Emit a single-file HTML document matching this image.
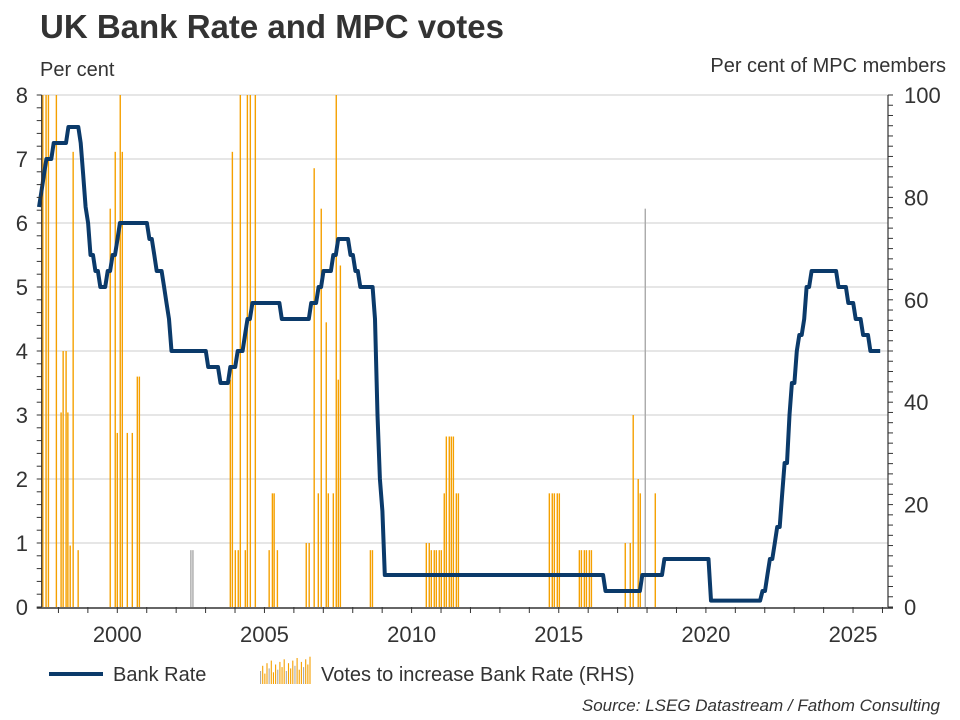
<!DOCTYPE html>
<html><head><meta charset="utf-8"><style>
html,body{margin:0;padding:0;background:#fff;}
svg{display:block;font-family:"Liberation Sans",Arial,sans-serif;}
</style></head><body>
<svg id="chart" width="960" height="720" viewBox="0 0 960 720">
<text x="40" y="38" font-size="33" font-weight="bold" fill="#333">UK Bank Rate and MPC votes</text>
<text x="40" y="76" font-size="20" fill="#333">Per cent</text>
<text x="946" y="72" font-size="20" fill="#333" text-anchor="end">Per cent of MPC members</text>
<g id="grid"></g>
<g id="bars"></g>
<path id="rateLine" fill="none" stroke="#0b3a6a" stroke-width="4" stroke-linejoin="round"/>
<g id="axes"></g>
<g>
<line x1="49" y1="674" x2="103" y2="674" stroke="#0b3a6a" stroke-width="4"/>
<text x="113" y="681" font-size="20" fill="#333">Bank Rate</text>
<g id="legBars"></g>
<text x="321" y="681" font-size="20" fill="#333">Votes to increase Bank Rate (RHS)</text>
</g>
<text x="940" y="711" font-size="17" font-style="italic" fill="#333" text-anchor="end">Source: LSEG Datastream / Fathom Consulting</text>
</svg>
<script>
const rateDates=[1997.34,1997.43,1997.52,1997.60,1997.85,1998.42,1998.77,1998.85,1998.94,1999.02,1999.10,1999.27,1999.44,1999.69,1999.84,2000.03,2000.11,2001.11,2001.26,2001.36,2001.59,2001.71,2001.76,2001.85,2003.10,2003.52,2003.85,2004.10,2004.35,2004.44,2004.59,2005.59,2006.59,2006.86,2007.03,2007.36,2007.51,2007.93,2008.10,2008.27,2008.77,2008.85,2008.93,2009.02,2009.10,2009.17,2016.59,2017.84,2018.59,2020.19,2020.21,2021.96,2022.09,2022.21,2022.34,2022.46,2022.59,2022.72,2022.84,2022.96,2023.09,2023.22,2023.36,2023.47,2023.59,2024.58,2024.85,2025.10,2025.35,2025.60];
const rateValues=[6.25,6.5,6.75,7.0,7.25,7.5,7.25,6.75,6.25,6.0,5.5,5.25,5.0,5.25,5.5,5.75,6.0,5.75,5.5,5.25,5.0,4.75,4.5,4.0,3.75,3.5,3.75,4.0,4.25,4.5,4.75,4.5,4.75,5.0,5.25,5.5,5.75,5.5,5.25,5.0,4.5,3.0,2.0,1.5,1.0,0.5,0.25,0.5,0.75,0.25,0.1,0.25,0.5,0.75,1.0,1.25,1.75,2.25,3.0,3.5,4.0,4.25,4.5,5.0,5.25,5.0,4.75,4.5,4.25,4.0];
const rateEnd=2025.95;
const voteDates=[1997.47,1997.58,1997.66,1997.93,1998.09,1998.16,1998.26,1998.32,1998.40,1998.50,1998.67,1999.76,1999.93,2000.00,2000.10,2000.17,2000.34,2000.51,2000.68,2000.75,2002.50,2002.57,2003.84,2003.91,2004.01,2004.11,2004.18,2004.35,2004.42,2004.52,2004.69,2005.16,2005.27,2005.33,2005.44,2006.42,2006.52,2006.69,2006.83,2006.93,2007.10,2007.17,2007.34,2007.44,2007.51,2007.58,2008.60,2008.67,2010.50,2010.60,2010.67,2010.77,2010.84,2010.94,2011.01,2011.11,2011.18,2011.28,2011.35,2011.42,2011.52,2011.59,2014.68,2014.78,2014.85,2014.95,2015.02,2015.70,2015.77,2015.87,2015.94,2016.04,2016.11,2017.26,2017.43,2017.53,2017.70,2017.77,2017.94,2018.28];
const voteValues=[100,100,100,100,38,50,50,38,12,88.9,11.1,77.8,88.9,34,100,88.9,34,34,45,45,11.1,11.1,44.4,88.9,11.1,11.1,100,11.1,100,100,100,11.1,22.2,22.2,11.1,12.5,12.5,85.7,22.2,77.8,55.6,22.2,22.2,100,44.4,66.7,11.1,11.1,12.5,12.5,11.1,11.1,11.1,11.1,11.1,22.2,33.3,33.3,33.3,33.3,22.2,22.2,22.2,22.2,22.2,22.2,22.2,11.1,11.1,11.1,11.1,11.1,11.1,12.5,12.5,37.5,25,22.2,77.8,22.2];
const voteGray=[2002.50,2002.57,2017.94];
const yTicksL=[0,1,2,3,4,5,6,7,8];
const yTicksR=[0,20,40,60,80,100];
const xTickLabels=[2000,2005,2010,2015,2020,2025];

const X0=41.7,X1=888,YB=607,YT=95;
const xs=t=>117.3+(t-2000)*29.43;
const yL=v=>YB-(v/8)*(YB-YT);
const yR=v=>YB-(v/100)*(YB-YT);
const NS='http://www.w3.org/2000/svg';
function mk(tag,attrs,parent){const e=document.createElementNS(NS,tag);for(const k in attrs)e.setAttribute(k,attrs[k]);parent.appendChild(e);return e;}
const grid=document.getElementById('grid'),axes=document.getElementById('axes'),bars=document.getElementById('bars');
yTicksL.forEach(v=>{
 if(v>0){const g=mk('line',{x1:X0,x2:X1,y1:yL(v),y2:yL(v),stroke:'#cccccc','stroke-width':1},grid);
 
 }
 const t=mk('text',{x:28,y:yL(v)+8,'font-size':22,fill:'#333','text-anchor':'end'},axes);t.textContent=v;
 
 
});
yTicksR.forEach(v=>{
 const t=mk('text',{x:904,y:yR(v)+8,'font-size':22,fill:'#333'},axes);t.textContent=v;
 
 
});
for(let i=0;i<=40;i++){const y=yL(i*0.2);mk('line',{x1:X0-5,x2:X0,y1:y,y2:y,stroke:'#333','stroke-width':1},axes);}
for(let i=0;i<=50;i++){const y=yR(i*2);mk('line',{x1:X1,x2:X1+5,y1:y,y2:y,stroke:'#333','stroke-width':1},axes);}
mk('line',{x1:X0,x2:X0,y1:YT,y2:YB,stroke:'#333','stroke-width':1.2},axes);
mk('line',{x1:X1,x2:X1,y1:YT,y2:YB,stroke:'#333','stroke-width':1.2},axes);
mk('line',{x1:X0-5,x2:X1+5,y1:YB+1,y2:YB+1,stroke:'#333','stroke-width':1.5},axes);
for(let yr=1998;yr<=2026;yr++){const x=xs(yr);if(x<X1)mk('line',{x1:x,x2:x,y1:YB,y2:YB+6,stroke:'#333','stroke-width':1},axes);}
xTickLabels.forEach(v=>{const t=mk('text',{x:xs(v),y:642,'font-size':22,fill:'#333','text-anchor':'middle'},axes);t.textContent=v;
 
 });
voteDates.forEach((d,i)=>{
 const b=mk('rect',{x:xs(d)-0.7,y:yR(voteValues[i]),width:1.4,height:YB-yR(voteValues[i]),fill:voteGray.includes(d)?'#aaaaaa':'#f5a000'},bars);
 
 
});
function rateAt(t){let v=rateValues[0];for(let i=0;i<rateDates.length;i++){if(rateDates[i]<=t)v=rateValues[i];}return v;}
let pts=[];
for(let t=rateDates[0];t<=rateEnd+1e-6;t+=1/12){pts.push(xs(t).toFixed(1)+','+yL(rateAt(t+1/12-0.001)).toFixed(1));}
document.getElementById('rateLine').setAttribute('d','M'+pts.join('L'));
const lb=document.getElementById('legBars');
const legH=[10,14,8,16,12,18,9,15,11,17,13,19,10,16,12,18,14,20,11,17,13,19,15,21];
legH.forEach((h,i)=>{const r=mk('rect',{x:260+i*2.15,y:684-h*1.3,width:1.1,height:h*1.3,fill:i%4==0?'#aaaaaa':'#f5a000'},lb);
 
 });
</script>
</body></html>
